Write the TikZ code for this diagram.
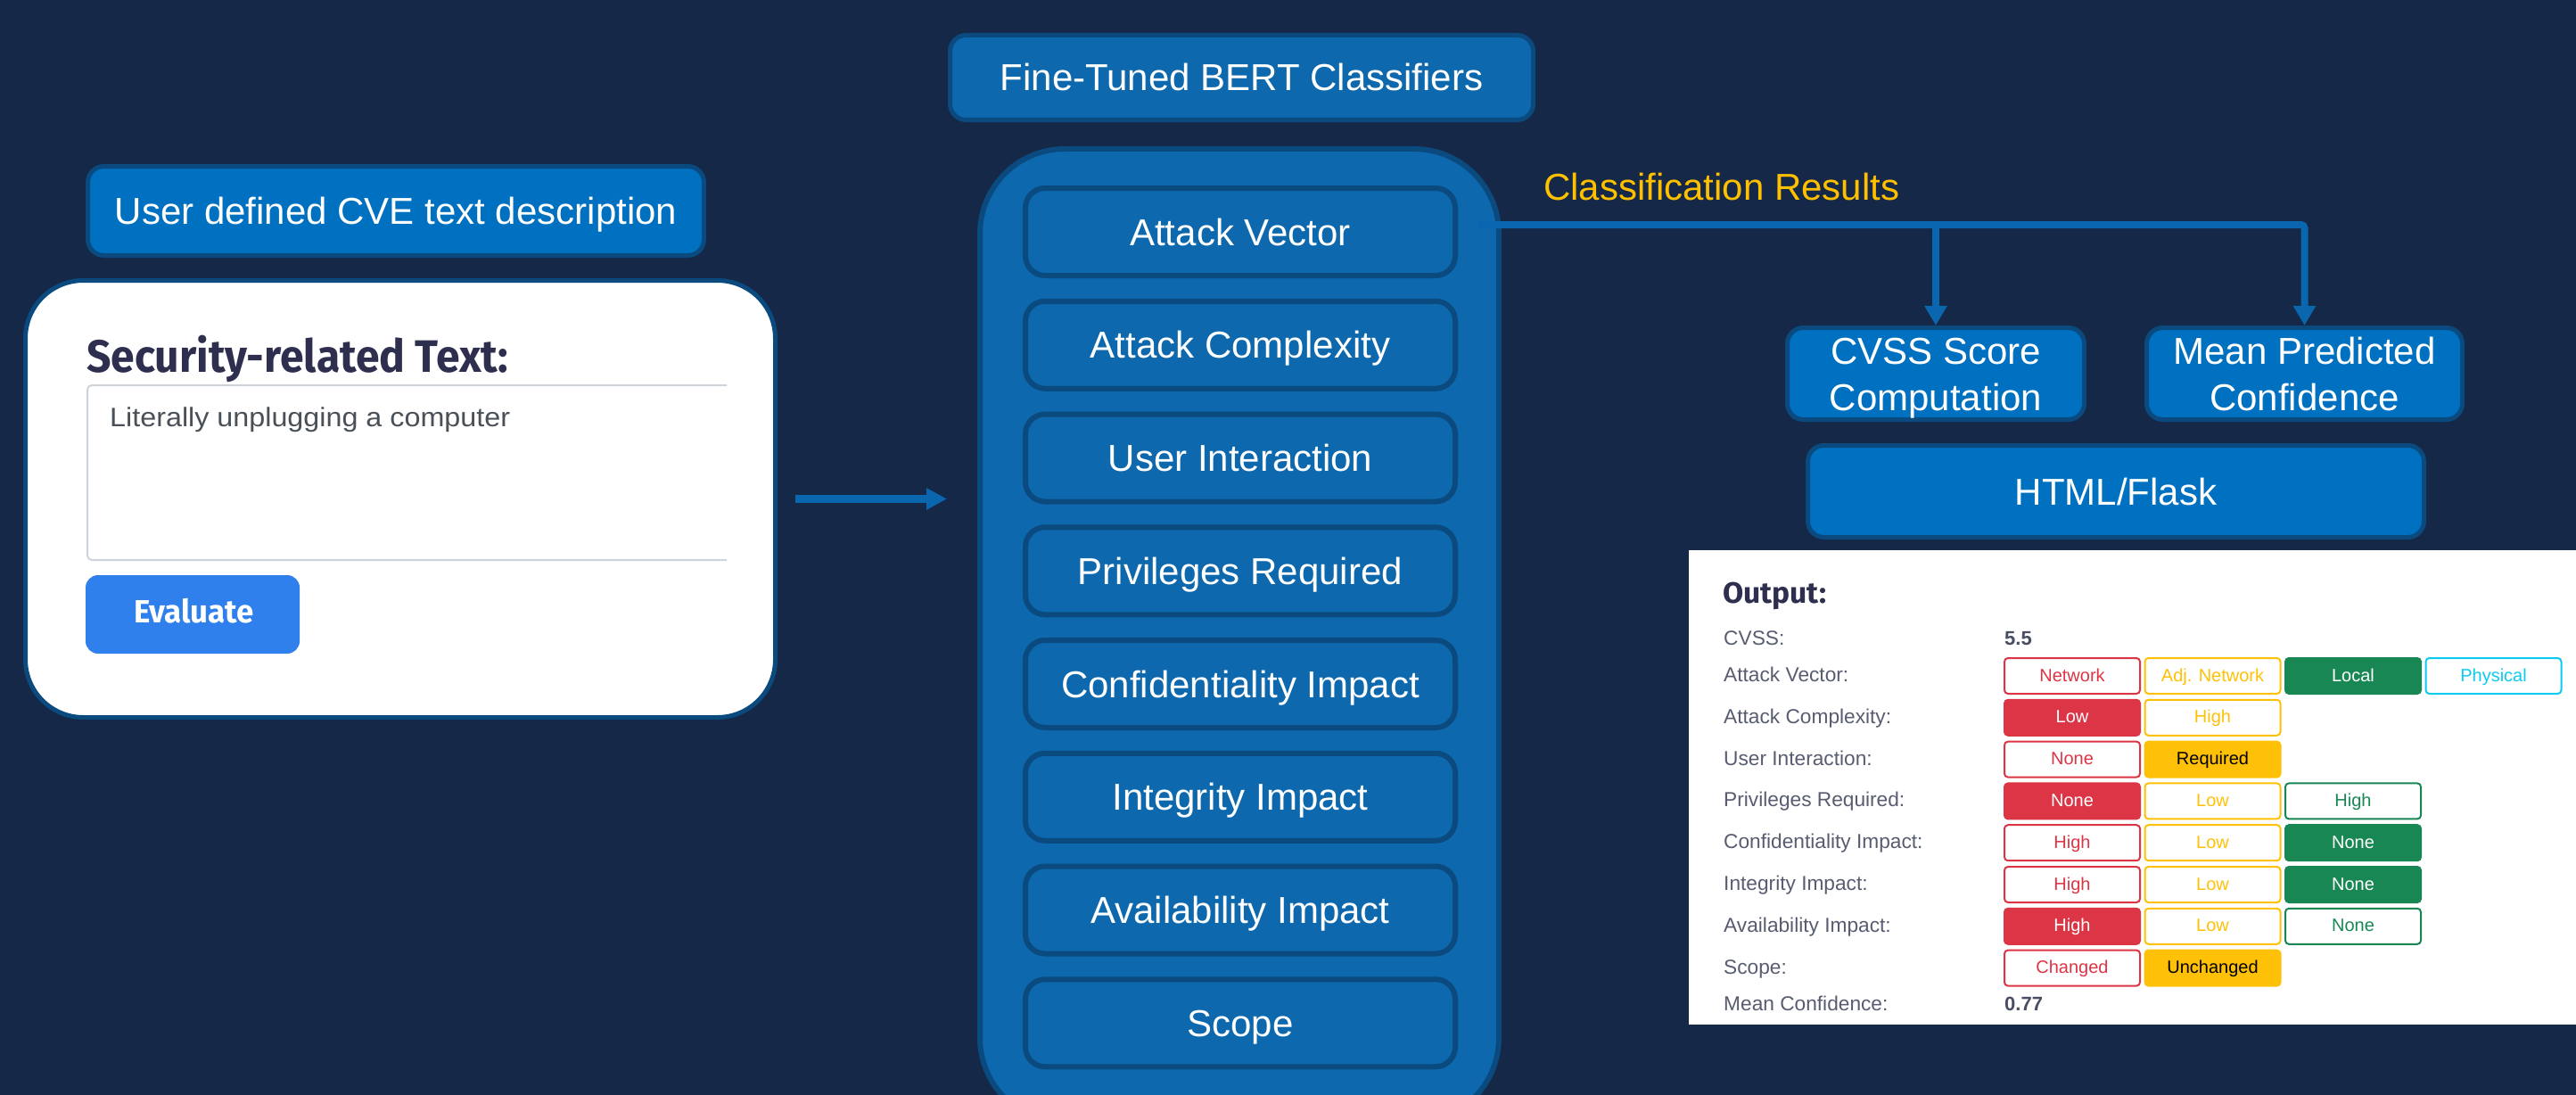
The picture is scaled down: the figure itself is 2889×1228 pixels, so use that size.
\documentclass[tikz,border=0pt]{standalone}
\usepackage{fontspec}
\usepackage{graphicx}
\setmainfont{Liberation Sans}
\newfontfamily\fira{Fira Sans}
\usetikzlibrary{arrows.meta}

\definecolor{bg}{HTML}{152847}
\definecolor{pptblue}{HTML}{0070C0}
\definecolor{panelblue}{HTML}{0D68AD}
\definecolor{edgeblue}{HTML}{0A4A7E}
\definecolor{linkblue}{HTML}{0A66AE}
\definecolor{resgold}{HTML}{FFC000}
\definecolor{headink}{HTML}{2E2E4F}
\definecolor{bodyink}{HTML}{495057}
\definecolor{labink}{HTML}{585C70}
\definecolor{valink}{HTML}{4A4E63}
\definecolor{fieldgray}{HTML}{CED4DA}
\definecolor{btnblue}{HTML}{2F80ED}
\definecolor{bred}{HTML}{DC3545}
\definecolor{byellow}{HTML}{FFC107}
\definecolor{bgreen}{HTML}{198754}
\definecolor{bcyan}{HTML}{0DCAF0}

\tikzset{
  boxlab/.style={font=\fontsize{42}{50}\selectfont, text=white, text height=35pt, text depth=5pt, inner sep=0pt},
  pptbox/.style={boxlab, draw=edgeblue, fill=pptblue, line width=5pt, rounded corners=18pt},
  dimbox/.style={boxlab, draw=edgeblue, fill=panelblue, line width=5pt, rounded corners=18pt},
  classbox/.style={boxlab, draw=edgeblue, fill=panelblue, line width=6pt, rounded corners=22pt, minimum width=482pt, minimum height=98pt},
  link/.style={draw=linkblue, line width=8pt},
  linktip/.style={-{Triangle[length=22pt,width=24pt]}},
  freelab/.style={inner sep=0pt, font=\fontsize{42}{50}\selectfont, text=white},
  rowlab/.style={anchor=base west, inner sep=0pt, text=labink, font=\fontsize{22.7}{26}\selectfont},
  rowval/.style={anchor=base west, inner sep=0pt, text=valink, font=\fontsize{22}{26}\selectfont\bfseries},
  badge/.style={minimum width=152pt, minimum height=40pt, rounded corners=4pt, line width=2pt, inner sep=0pt, font=\fontsize{20}{24}\selectfont, text height=14pt, text depth=2pt},
  bout/.style={badge, draw=#1, fill=white, text=#1},
  bfill/.style={badge, draw=#1, fill=#1, text=white},
  byel/.style={badge, draw=byellow, fill=byellow, text=black}
}

\begin{document}
\begin{tikzpicture}[x=1pt,y=-1pt]
\useasboundingbox (0,0) rectangle (2889,1228);
\fill[bg] (0,0) rectangle (2889,1228);
\clip (0,0) rectangle (2889,1228);

% ---------- left: user input ----------
\node[pptbox, minimum width=691pt, minimum height=100pt] (user) at (444,236.5) {User defined CVE text description};

\node[draw=edgeblue, fill=white, line width=5pt, rounded corners=65pt, minimum width=841pt, minimum height=490pt, inner sep=0pt] (screen) at (449,559.5) {};
\node[anchor=base west, inner sep=0pt, text=headink, font=\fontsize{51}{60}\selectfont\fira\bfseries] (sectitle) at (97,417) {\resizebox{473pt}{\height}{Security-related Text:}};
\draw[fieldgray, line width=2pt, rounded corners=5pt] (815,432) -- (98,432) -- (98,628) -- (815,628);
\node[anchor=base west, inner sep=0pt, text=bodyink, font=\fontsize{30}{36}\selectfont] (inputtext) at (123,478) {\resizebox{449pt}{\height}{Literally unplugging a computer}};
\node[fill=btnblue, rounded corners=14pt, minimum width=240pt, minimum height=88pt, inner sep=0pt] (evalbtn) at (216,689) {};
\node[anchor=base, inner sep=0pt, text=white, font=\fontsize{36}{44}\selectfont\fira\bfseries] (evaltext) at (217.5,698.5) {\resizebox{135pt}{\height}{Evaluate}};

% ---------- middle: classifiers ----------
\node[draw=edgeblue, fill=panelblue, line width=6pt, rounded corners=95pt, minimum width=582pt, minimum height=1092pt, inner sep=0pt] (panel) at (1390,713) {};

\draw[link, line width=8.7pt, -{Triangle[length=23pt,width=23pt]}, shorten <=20pt, shorten >=34pt] (screen.east) -- (screen.east -| panel.west);

\node[dimbox, minimum width=654pt, minimum height=95pt] (fine) at (1392.5,87) {Fine-Tuned BERT Classifiers};

\node[classbox] (av)  at (1391,260)     {Attack Vector};
\node[classbox] (ac)  at (1391,386.75)  {Attack Complexity};
\node[classbox] (ui)  at (1391,513.5)   {User Interaction};
\node[classbox] (pr)  at (1391,640.25)  {Privileges Required};
\node[classbox] (ci)  at (1391,767)     {Confidentiality Impact};
\node[classbox] (ii)  at (1391,893.75)  {Integrity Impact};
\node[classbox] (ai)  at (1391,1020.5)  {Availability Impact};
\node[classbox] (sc)  at (1391,1147.25) {Scope};

% ---------- right: results ----------
\node[pptbox, minimum width=333pt, minimum height=103pt] (cvss) at (2171,419) {};
\node[freelab, anchor=base, yshift=11pt] (cvsst1) at (cvss.center) {CVSS Score};
\node[freelab, anchor=base, yshift=-41pt] (cvsst2) at (cvss.center) {Computation};
\node[pptbox, minimum width=354pt, minimum height=103pt] (mean) at (2584.5,419) {};
\node[freelab, anchor=base, yshift=11pt] (meant1) at (mean.center) {Mean Predicted};
\node[freelab, anchor=base, yshift=-41pt] (meant2) at (mean.center) {Confidence};
\node[pptbox, minimum width=691pt, minimum height=103pt] (html) at (2373,551) {HTML/Flask};

\coordinate (cr) at (1658,252);
\draw[link, linktip, rounded corners=4pt] (cr) -- (cr -| mean.north) -- (mean.north);
\draw[link, linktip] (cr -| cvss.north) -- (cvss.north);
\node[anchor=base west, inner sep=0pt, text=resgold, font=\fontsize{42}{50}\selectfont] (clsres) at (1731,224) {Classification Results};

% ---------- output panel ----------
\node[fill=white, minimum width=995pt, minimum height=532pt, inner sep=0pt] (outpanel) at (2391.5,883) {};
\node[anchor=base west, inner sep=0pt, text=headink, font=\fontsize{33}{40}\selectfont\fira\bfseries] (outtitle) at (1932,676) {\resizebox{116pt}{\height}{Output:}};

\node[rowlab] (l-cvss) at (1933,723)    {CVSS:};
\node[rowval] (v-cvss) at (2248,723)    {5.5};
\node[rowlab] (l-av)   at (1933,764.5)  {Attack Vector:};
\node[rowlab] (l-ac)   at (1933,811.3)  {Attack Complexity:};
\node[rowlab] (l-ui)   at (1933,858.1)  {User Interaction:};
\node[rowlab] (l-pr)   at (1933,904.9)  {Privileges Required:};
\node[rowlab] (l-ci)   at (1933,951.7)  {Confidentiality Impact:};
\node[rowlab] (l-ii)   at (1933,998.5)  {Integrity Impact:};
\node[rowlab] (l-ai)   at (1933,1045.3) {Availability Impact:};
\node[rowlab] (l-sc)   at (1933,1092.1) {Scope:};
\node[rowlab] (l-mc)   at (1933,1133.5) {Mean Confidence:};
\node[rowval] (v-mc)   at (2248,1133.5) {0.77};

% badges
\node[bout=bred]     (b-av1) at (2324,758)   {Network};
\node[bout=byellow]  (b-av2) at (2481.5,758) {Adj. Network};
\node[bfill=bgreen]  (b-av3) at (2639,758)   {Local};
\node[bout=bcyan]    (b-av4) at (2796.5,758) {Physical};

\node[bfill=bred]    (b-ac1) at (2324,804.8)   {Low};
\node[bout=byellow]  (b-ac2) at (2481.5,804.8) {High};

\node[bout=bred]     (b-ui1) at (2324,851.6)   {None};
\node[byel]          (b-ui2) at (2481.5,851.6) {Required};

\node[bfill=bred]    (b-pr1) at (2324,898.4)   {None};
\node[bout=byellow]  (b-pr2) at (2481.5,898.4) {Low};
\node[bout=bgreen]   (b-pr3) at (2639,898.4)   {High};

\node[bout=bred]     (b-ci1) at (2324,945.2)   {High};
\node[bout=byellow]  (b-ci2) at (2481.5,945.2) {Low};
\node[bfill=bgreen]  (b-ci3) at (2639,945.2)   {None};

\node[bout=bred]     (b-ii1) at (2324,992)   {High};
\node[bout=byellow]  (b-ii2) at (2481.5,992) {Low};
\node[bfill=bgreen]  (b-ii3) at (2639,992)   {None};

\node[bfill=bred]    (b-ai1) at (2324,1038.8)   {High};
\node[bout=byellow]  (b-ai2) at (2481.5,1038.8) {Low};
\node[bout=bgreen]   (b-ai3) at (2639,1038.8)   {None};

\node[bout=bred]     (b-sc1) at (2324,1085.6)   {Changed};
\node[byel]          (b-sc2) at (2481.5,1085.6) {Unchanged};
\end{tikzpicture}
\end{document}
